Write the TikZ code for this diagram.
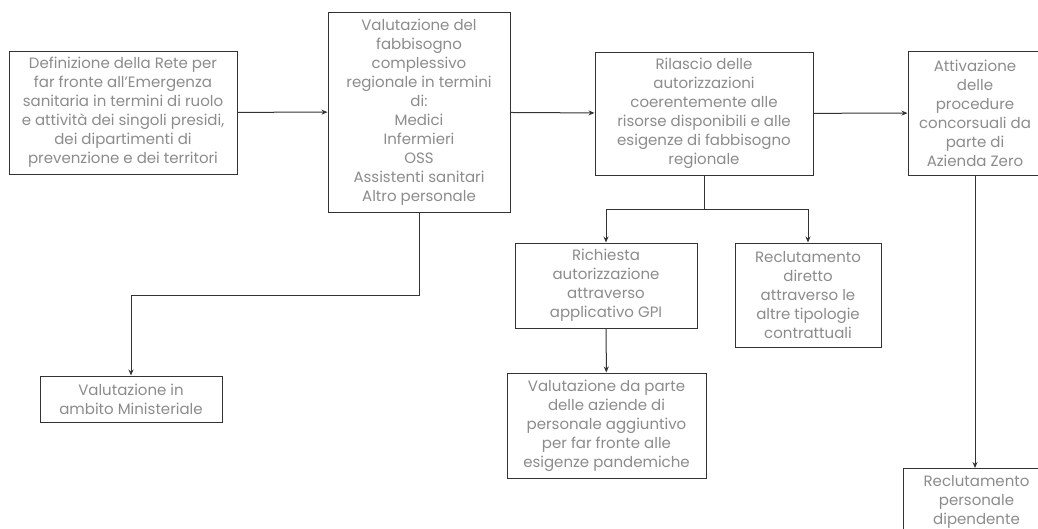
\documentclass[tikz,border=0pt]{standalone}
\usepackage{fontspec}
\setmainfont{Poppins}
\usepackage{tikz}
\usetikzlibrary{arrows.meta,positioning}
\tikzset{
  box/.style={draw=black!80,line width=1pt,fill=white,align=center,text=black!45,inner sep=1pt,font=\fontsize{15}{19}\selectfont},
  arr/.style={-{Stealth[length=6pt,width=5pt]},line width=1pt,draw=black!80},
  lne/.style={line width=1pt,draw=black!80},
}

\begin{document}
\begin{tikzpicture}[x=1pt,y=-1pt]
 \useasboundingbox (0,0) rectangle (1038,528);
 \node[box,minimum width=228pt,minimum height=123pt] (rete) at (123,112.5) {Definizione della Rete per\\far fronte all'Emergenza\\sanitaria in termini di ruolo\\e attività dei singoli presidi,\\dei dipartimenti di\\prevenzione e dei territori};
 \node[box,minimum width=182pt,minimum height=200pt] (fabb) at (419,112) {Valutazione del\\fabbisogno\\complessivo\\regionale in termini\\di:\\Medici\\Infermieri\\OSS\\Assistenti sanitari\\Altro personale};
 \node[box,minimum width=218pt,minimum height=123pt] (rilascio) at (704,113.5) {Rilascio delle\\autorizzazioni\\coerentemente alle\\risorse disponibili e alle\\esigenze di fabbisogno\\regionale};
 \node[box,minimum width=134pt,minimum height=124pt] (attiv) at (975,113) {Attivazione\\delle\\procedure\\concorsuali da\\parte di\\Azienda Zero};
 \node[box,minimum width=182pt,minimum height=85pt] (gpi) at (606,285.5) {Richiesta\\autorizzazione\\attraverso\\applicativo GPI};
 \node[box,minimum width=146pt,minimum height=104pt] (diretto) at (808,295) {Reclutamento\\diretto\\attraverso le\\altre tipologie\\contrattuali};
 \node[box,minimum width=199pt,minimum height=105pt] (aziende) at (606.5,425.5) {Valutazione da parte\\delle aziende di\\personale aggiuntivo\\per far fronte alle\\esigenze pandemiche};
 \node[box,minimum width=182pt,minimum height=46pt] (minist) at (131,399) {Valutazione in\\ambito Ministeriale};
 \node[box,minimum width=146pt,minimum height=66pt,anchor=north west] (dip) at (903,468) {Reclutamento\\personale\\dipendente};
 % connettori
 \draw[arr] (rete) -- (fabb);
 \draw[arr] (fabb) -- (rilascio);
 \draw[arr] (rilascio) -- (attiv);
 \coordinate (split) at (704,209);
 \draw[lne] (rilascio) -- (split);
 \draw[arr] (split) -| (gpi.north);
 \draw[arr] (split) -| (diretto.north);
 \draw[arr] (gpi) -- (aziende);
 \draw[arr] (fabb.south) |- (131,295) -- (minist.north);
 \draw[arr] (attiv) -- (attiv.south |- dip.north);
\end{tikzpicture}
\end{document}
